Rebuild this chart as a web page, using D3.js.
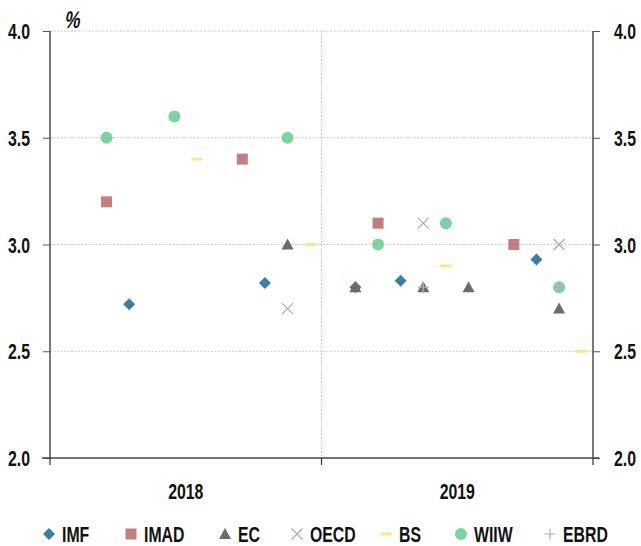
<!DOCTYPE html>
<html>
<head>
<meta charset="utf-8">
<title>Forecasts</title>
<script src="https://d3js.org/d3.v7.min.js"></script>
<style>
  body { margin: 0; background: #fff; }
  text { font-family: "Liberation Sans", Arial, sans-serif; font-weight: bold; fill: #111; }
</style>
</head>
<body>
<script>
// two groups (forecast year), 12 monthly slots each
var years = ["2018", "2019"];
var months = d3.range(1, 13);
var yTicks = [2.0, 2.5, 3.0, 3.5, 4.0];

// [year, month slot, value]
var imf  = [["2018",4,2.72],["2018",10,2.82],["2019",2,2.8],["2019",4,2.83],["2019",10,2.93]];
var imad = [["2018",3,3.2],["2018",9,3.4],["2019",3,3.1],["2019",9,3.0]];
var ec   = [["2018",11,3.0],["2019",2,2.8],["2019",5,2.8],["2019",7,2.8],["2019",11,2.7]];
var oecd = [["2018",11,2.7],["2019",5,3.1],["2019",11,3.0]];
var bs   = [["2018",7,3.4],["2018",12,3.0],["2019",6,2.9],["2019",12,2.5]];
var wiiw = [["2018",3,3.5],["2018",6,3.6],["2018",11,3.5],["2019",3,3.0],["2019",6,3.1],["2019",11,2.8]];
var ebrd = [["2019",5,2.8],["2019",11,2.8]];

var series = [
  {name:"IMF",  data:imf,  shape:"diamond",  color:"#3b7f9f"},
  {name:"IMAD", data:imad, shape:"square",   color:"#c17f7d"},
  {name:"EC",   data:ec,   shape:"triangle", color:"#6b6b6b"},
  {name:"OECD", data:oecd, shape:"cross",    color:"#aaaaaa"},
  {name:"BS",   data:bs,   shape:"dash",     color:"#fde48c"},
  {name:"WIIW", data:wiiw, shape:"circle",   color:"#7dd3a0"},
  {name:"EBRD", data:ebrd, shape:"plus",     color:"#b3a8cd"}
];

var W = 641, H = 546;
var L = 50, R = 593, T = 31, B = 458;
var SX = 0.72; // squeeze to mimic a condensed face

var svg = d3.select("body").append("svg").attr("width", W).attr("height", H);

function label(px, py, txt, anchor, size, italic) {
  var t = svg.append("text")
    .attr("transform", "translate(" + px + "," + py + ") scale(" + SX + ",1)" + (italic ? " skewX(-14)" : ""))
    .attr("text-anchor", anchor || "start")
    .attr("font-size", size || 22)
    .text(txt);
  return t;
}

var slots = [];
years.forEach(function(y){ months.forEach(function(m){ slots.push(y + "-" + m); }); });

var x = d3.scaleBand().domain(slots).range([L, R]);
var xg = d3.scaleBand().domain(years).range([L, R]);
var y = d3.scaleLinear().domain([2, 4]).range([B, T]);

// grid
svg.append("g").selectAll("line").data(yTicks.slice(1)).enter().append("line")
  .attr("x1", L).attr("x2", R)
  .attr("y1", function(d){ return y(d); }).attr("y2", function(d){ return y(d); })
  .attr("stroke", "#c8c8c8").attr("stroke-dasharray", "2,1.5").attr("stroke-width", 1);
svg.append("line")
  .attr("x1", xg("2019")).attr("x2", xg("2019")).attr("y1", T).attr("y2", B)
  .attr("stroke", "#c8c8c8").attr("stroke-dasharray", "2,1.5").attr("stroke-width", 1);

// left and right axes
var yl = svg.append("g").attr("transform", "translate(" + L + ",0)")
  .call(d3.axisLeft(y).tickValues(yTicks).tickFormat("").tickSize(7));
var yr = svg.append("g").attr("transform", "translate(" + R + ",0)")
  .call(d3.axisRight(y).tickValues(yTicks).tickFormat("").tickSize(7));
[yl, yr].forEach(function(a){
  a.select(".domain").attr("stroke", "#333").attr("stroke-width", 1.3).attr("d", "M0," + T + "V" + B);
  a.selectAll(".tick line").attr("stroke", "#555");
});
yTicks.forEach(function(v){
  label(30, y(v) + 8, d3.format(".1f")(v), "end");
  label(614, y(v) + 8, d3.format(".1f")(v), "start");
});

// bottom axis
svg.append("line").attr("x1", L - 8).attr("x2", R + 6).attr("y1", B).attr("y2", B)
  .attr("stroke", "#444").attr("stroke-width", 1.3);
svg.append("g").selectAll("line").data([L, xg("2019"), R]).enter().append("line")
  .attr("x1", function(d){ return d; }).attr("x2", function(d){ return d; })
  .attr("y1", B).attr("y2", B + 7).attr("stroke", "#333").attr("stroke-width", 1.2);
years.forEach(function(yr){
  label(xg(yr) + xg.bandwidth() / 2, B + 41, yr, "middle");
});

// unit
label(64, 28, "%", "start", 24, true);

function drawMarker(g, shape, color, cx, cy) {
  var tr = "translate(" + cx + "," + cy + ")";
  if (shape === "diamond") {
    g.append("path").attr("d", "M0,-6L6,0L0,6L-6,0Z").attr("transform", tr).attr("fill", color);
  } else if (shape === "square") {
    g.append("rect").attr("x", cx - 5.5).attr("y", cy - 5.5).attr("width", 11).attr("height", 11).attr("fill", color);
  } else if (shape === "triangle") {
    g.append("path").attr("d", "M0,-6L6,5L-6,5Z").attr("transform", tr).attr("fill", color);
  } else if (shape === "cross") {
    g.append("path").attr("d", "M-5.5,-5.5L5.5,5.5M-5.5,5.5L5.5,-5.5").attr("transform", tr)
      .attr("stroke", color).attr("stroke-width", 1.2).attr("fill", "none");
  } else if (shape === "dash") {
    g.append("rect").attr("x", cx - 5.5).attr("y", cy - 1.5).attr("width", 11).attr("height", 3).attr("fill", color);
  } else if (shape === "circle") {
    g.append("circle").attr("cx", cx).attr("cy", cy).attr("r", 6).attr("fill", color);
  } else if (shape === "plus") {
    g.append("path").attr("d", "M-5.5,0H5.5M0,-5.5V5.5").attr("transform", tr)
      .attr("stroke", color).attr("stroke-width", 1.2).attr("fill", "none");
  }
}

// points
series.forEach(function(s){
  var g = svg.append("g");
  s.data.forEach(function(d){
    var cx = x(d[0] + "-" + d[1]) + x.bandwidth() / 2;
    drawMarker(g, s.shape, s.color, cx, y(d[2]));
  });
});

// legend
var legX = [49, 131, 225, 297, 386, 461, 550];
var leg = svg.append("g");
series.forEach(function(s, i){
  drawMarker(leg, s.shape, s.color, legX[i], 534);
  label(legX[i] + 13, 542, s.name, "start", 22);
});
</script>
</body>
</html>
